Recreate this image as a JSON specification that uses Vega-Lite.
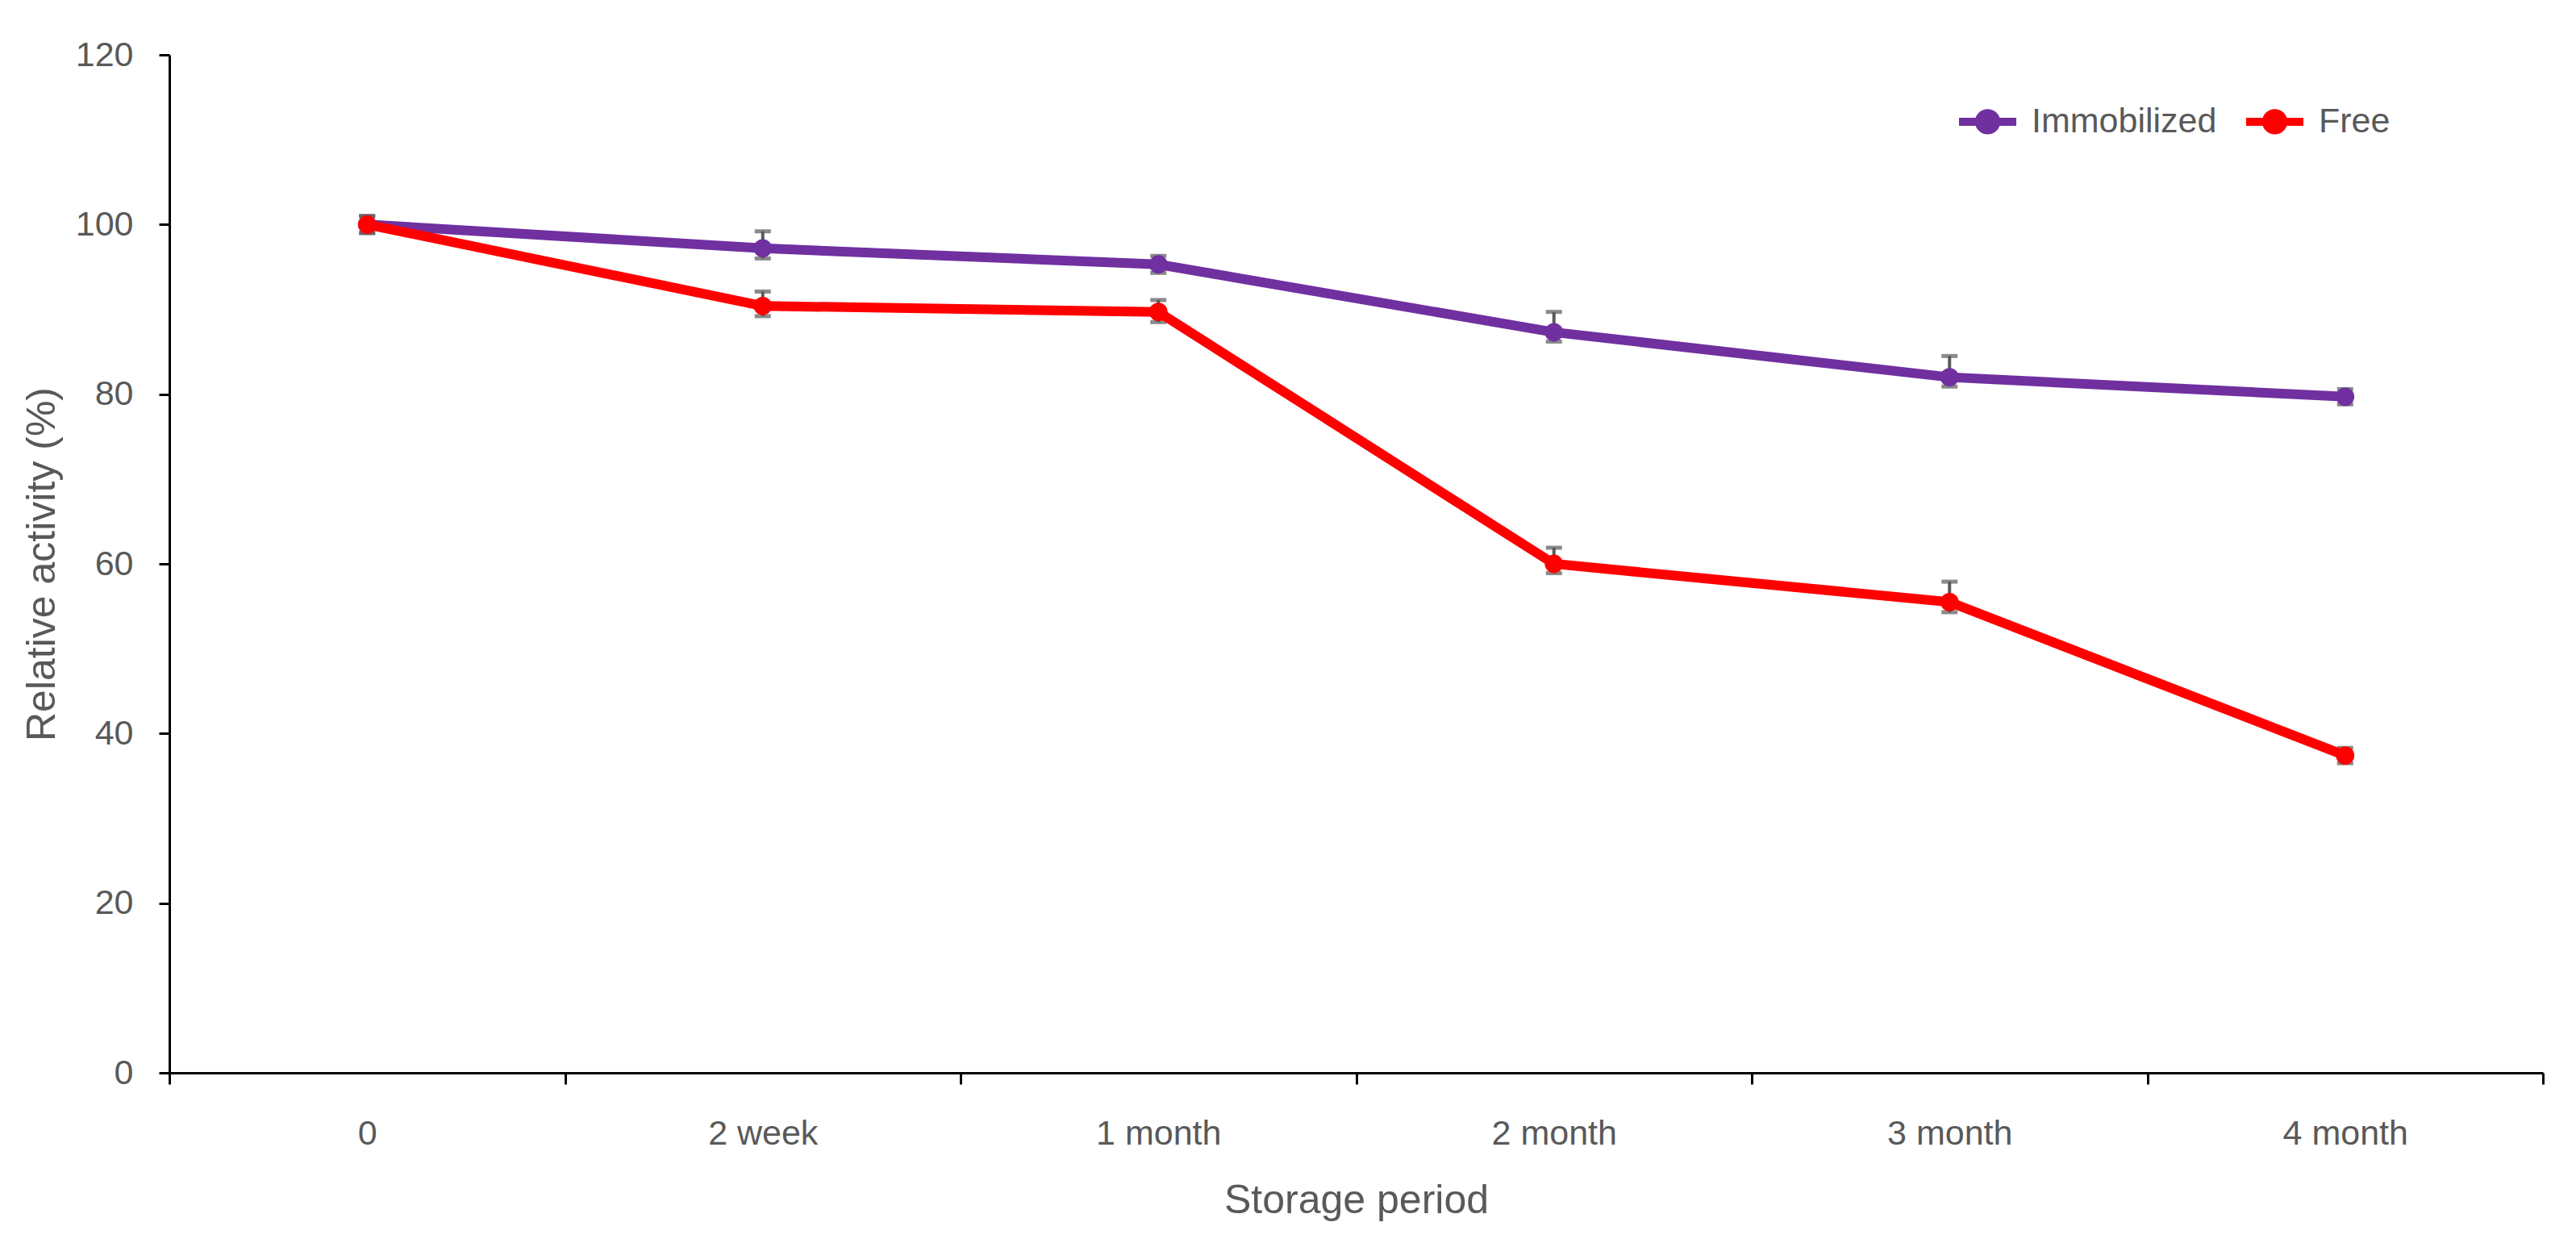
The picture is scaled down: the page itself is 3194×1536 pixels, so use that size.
{
  "$schema": "https://vega.github.io/schema/vega-lite/v6.json",
  "autosize": {"type": "none"},
  "width": 2943,
  "height": 1262,
  "padding": {"left": 210, "top": 68, "right": 41, "bottom": 206},
  "background": "white",
  "config": {
    "view": {"stroke": null},
    "font": "Liberation Sans, sans-serif",
    "axis": {
      "grid": false,
      "domainColor": "#000000",
      "domainWidth": 3,
      "tickColor": "#000000",
      "tickWidth": 3,
      "labelColor": "#595959",
      "labelFontSize": 43,
      "labelFont": "Liberation Sans, sans-serif",
      "titleColor": "#595959",
      "titleFontSize": 50,
      "titleFontWeight": "normal",
      "titleFont": "Liberation Sans, sans-serif"
    },
    "legend": {
      "labelColor": "#595959",
      "labelFontSize": 43,
      "labelLimit": 500,
      "labelFont": "Liberation Sans, sans-serif"
    }
  },
  "data": {
    "values": [
      {"series": "Immobilized", "period": "0", "value": 100, "lo": 99, "hi": 101},
      {"series": "Immobilized", "period": "2 week", "value": 97.2, "lo": 96.0, "hi": 99.2},
      {"series": "Immobilized", "period": "1 month", "value": 95.3, "lo": 94.3, "hi": 96.3},
      {"series": "Immobilized", "period": "2 month", "value": 87.3, "lo": 86.2, "hi": 89.7},
      {"series": "Immobilized", "period": "3 month", "value": 82.0, "lo": 80.9, "hi": 84.5},
      {"series": "Immobilized", "period": "4 month", "value": 79.7, "lo": 78.8, "hi": 80.6},
      {"series": "Free", "period": "0", "value": 100, "lo": 99, "hi": 101},
      {"series": "Free", "period": "2 week", "value": 90.4, "lo": 89.2, "hi": 92.1},
      {"series": "Free", "period": "1 month", "value": 89.7, "lo": 88.5, "hi": 91.1},
      {"series": "Free", "period": "2 month", "value": 60.0, "lo": 58.9, "hi": 61.9},
      {"series": "Free", "period": "3 month", "value": 55.5, "lo": 54.3, "hi": 57.9},
      {"series": "Free", "period": "4 month", "value": 37.4, "lo": 36.5, "hi": 38.3}
    ]
  },
  "encoding": {
    "x": {
      "field": "period",
      "type": "ordinal",
      "sort": ["0", "2 week", "1 month", "2 month", "3 month", "4 month"],
      "scale": {"type": "band", "paddingInner": 0, "paddingOuter": 0},
      "axis": {
        "title": "Storage period",
        "labelAngle": 0,
        "tickBand": "extent",
        "tickSize": 14,
        "labelPadding": 40,
        "titlePadding": 36
      }
    }
  },
  "layer": [
    {
      "mark": {"type": "rule", "color": "#595959", "strokeWidth": 4},
      "encoding": {
        "y": {"field": "lo", "type": "quantitative"},
        "y2": {"field": "hi"}
      }
    },
    {
      "mark": {"type": "tick", "color": "#595959", "size": 20, "thickness": 5, "orient": "horizontal"},
      "encoding": {
        "y": {"field": "hi", "type": "quantitative"}
      }
    },
    {
      "mark": {"type": "tick", "color": "#595959", "size": 20, "thickness": 5, "orient": "horizontal"},
      "encoding": {
        "y": {"field": "lo", "type": "quantitative"}
      }
    },
    {
      "mark": {"type": "line", "strokeWidth": 12},
      "encoding": {
        "y": {
          "field": "value",
          "type": "quantitative",
          "scale": {"domain": [0, 120], "nice": false},
          "axis": {
            "title": "Relative activity (%)",
            "values": [0, 20, 40, 60, 80, 100, 120],
            "tickSize": 13,
            "labelPadding": 32,
            "titlePadding": 16
          }
        },
        "color": {
          "field": "series",
          "type": "nominal",
          "scale": {"domain": ["Immobilized", "Free"], "range": ["#7030A0", "#FF0000"]},
          "legend": {
            "title": null,
            "orient": "none",
            "legendX": 2214,
            "legendY": 42,
            "direction": "horizontal",
            "symbolType": "M-1,0H1M-0.3,0A0.3,0.3,0,1,1,0.3,0A0.3,0.3,0,1,1,-0.3,0Z",
            "symbolSize": 5041,
            "symbolStrokeWidth": 10,
            "labelOffset": 14,
            "columnPadding": 16,
            "encode": {
              "symbols": {
                "update": {
                  "fill": {"scale": "color", "field": "value"},
                  "stroke": {"scale": "color", "field": "value"}
                }
              }
            }
          }
        }
      }
    },
    {
      "mark": {"type": "point", "filled": true, "shape": "circle", "size": 520, "opacity": 1},
      "encoding": {
        "y": {"field": "value", "type": "quantitative"},
        "color": {
          "field": "series",
          "type": "nominal",
          "legend": null
        }
      }
    }
  ]
}
